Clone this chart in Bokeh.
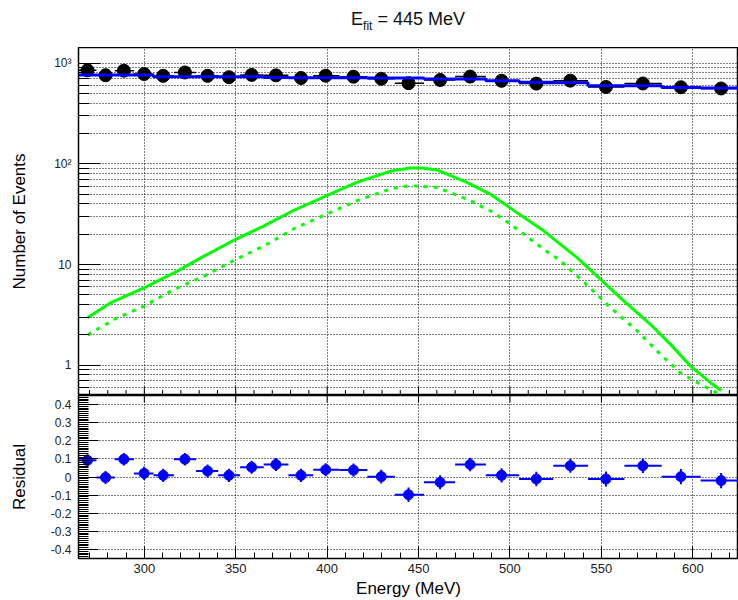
import math
from bokeh.plotting import figure
from bokeh.layouts import column
from bokeh.models import ColumnDataSource, FixedTicker, Range1d, Div
from bokeh.embed import file_html
from bokeh.resources import INLINE

FONT = "Liberation Sans"

# Energy binning (MeV)
bin_lo = [264.0, 273.8, 283.8, 294.3, 305.0, 316.2, 328.3, 340.4, 352.4, 365.3, 378.8, 392.4,
          406.7, 422.0, 437.0, 453.0, 470.0, 486.8, 505.0, 523.7, 542.7, 562.6, 583.0, 604.3]
bin_hi = [273.8, 283.8, 294.3, 305.0, 316.2, 328.3, 340.4, 352.4, 365.3, 378.8, 392.4, 406.7,
          422.0, 437.0, 453.0, 470.0, 486.8, 505.0, 523.7, 542.7, 562.6, 583.0, 604.3, 627.0]
bin_center = [268.9, 278.8, 288.8, 299.9, 310.3, 322.2, 334.6, 346.3, 358.7, 372.0, 385.7, 399.2,
              414.4, 429.6, 444.5, 461.8, 478.2, 495.4, 514.4, 533.0, 552.5, 572.7, 593.5, 615.5]

# Observed counts per bin
counts = [850, 758, 842, 780, 748, 808, 748, 725, 764, 756, 712, 750,
          733, 700, 632, 680, 735, 668, 626, 670, 580, 628, 576, 560]

# Fitted background per bin
fit = [762, 762, 762, 762, 733, 733, 733, 733, 733, 720, 718, 716,
       714, 712, 710, 696, 696, 668, 646, 638, 596, 596, 574, 566]

# Relative residuals and their uncertainties
resid = [0.092, -0.003, 0.098, 0.020, 0.009, 0.098, 0.033, 0.009, 0.054, 0.069, 0.009, 0.040,
         0.038, 0.002, -0.098, -0.029, 0.069, 0.009, -0.011, 0.062, -0.011, 0.062, 0.002, -0.020]
resid_err = [0.034, 0.036, 0.034, 0.036, 0.036, 0.035, 0.036, 0.037, 0.036, 0.036, 0.037, 0.036,
             0.037, 0.038, 0.040, 0.038, 0.037, 0.039, 0.040, 0.039, 0.042, 0.040, 0.042, 0.042]

# Signal shape (solid) and its scaled component (dashed)
sig_e = [269.1, 281.8, 300.1, 318.3, 331.1, 350.3, 365.8, 381.0, 399.8, 416.2, 434.4, 445.4,
         452.0, 460.0, 476.4, 489.2, 500.2, 518.4, 536.7, 549.4, 562.2, 576.8, 587.8, 598.7,
         609.7, 615.5]
sig_total = [2.97, 4.19, 5.90, 8.65, 11.7, 17.9, 24.3, 34.0, 48.3, 65.5, 84.2, 91.0,
             91.0, 87.0, 65.5, 50.1, 36.3, 21.6, 11.7, 7.16, 4.36, 2.55, 1.61, 0.98,
             0.67, 0.56]
sig2_e = [269.1, 283.7, 300.1, 316.5, 333.0, 350.3, 365.8, 382.0, 399.8, 416.2, 434.4, 445.4,
          460.0, 476.4, 489.2, 500.2, 518.4, 527.6, 541.2, 555.0, 569.6, 582.3, 593.2, 604.2,
          613.4]
sig_part = [2.00, 2.86, 3.88, 5.69, 7.72, 11.3, 15.4, 22.8, 31.7, 43.0, 56.2, 60.7,
            58.4, 44.7, 34.2, 25.2, 14.2, 10.9, 6.5, 3.73, 2.19, 1.28, 0.84, 0.645,
            0.53]

# Axis ticks
e_major = [300, 350, 400, 450, 500, 550, 600]
e_minor = [270, 280, 290, 310, 320, 330, 340, 360, 370, 380, 390, 410, 420, 430, 440,
           460, 470, 480, 490, 510, 520, 530, 540, 560, 570, 580, 590, 610, 620]
log_major = [1, 10, 100, 1000]
log_labels = ["1", "10", "10\u00b2", "10\u00b3"]
log_minor = [0.5, 0.6, 0.7, 0.8, 0.9, 2, 3, 4, 5, 6, 7, 8, 9,
             20, 30, 40, 50, 60, 70, 80, 90, 200, 300, 400, 500, 600, 700, 800, 900]
res_major = [-0.4, -0.3, -0.2, -0.1, 0.0, 0.1, 0.2, 0.3, 0.4]
res_labels = ["-0.4", "-0.3", "-0.2", "-0.1", "0", "0.1", "0.2", "0.3", "0.4"]
res_minor = [round(-0.45 + 0.01 * i, 2) for i in range(91)]
res_minor = [t for t in res_minor if t not in res_major]

BLUE = "#0000ff"
GREEN = "#00ff00"

E_LO, E_HI = 264, 625
N_LO, N_HI = 0.5, 1430
R_LO, R_HI = -0.45, 0.45

src = ColumnDataSource(dict(lo=bin_lo, hi=bin_hi, x=bin_center, n=counts,
                            r=resid, r_lo=[r - e for r, e in zip(resid, resid_err)],
                            r_hi=[r + e for r, e in zip(resid, resid_err)]))

x_range = Range1d(E_LO, E_HI)


def dotted_grid(grid, minor=False):
    grid.grid_line_color = "black"
    grid.grid_line_dash = "1 2"
    grid.grid_line_alpha = 1.0
    if minor:
        grid.minor_grid_line_color = "black"
        grid.minor_grid_line_dash = "1 2"
        grid.minor_grid_line_alpha = 1.0


def style_axis(ax, tick_in, minor_in, label_size="12px"):
    ax.axis_line_color = "black"
    ax.major_tick_line_color = "black"
    ax.minor_tick_line_color = "black"
    ax.major_tick_in = tick_in
    ax.major_tick_out = 0
    ax.minor_tick_in = minor_in
    ax.minor_tick_out = 0
    ax.major_label_text_font = FONT
    ax.major_label_text_font_size = label_size
    ax.major_label_text_color = "#222222"
    ax.axis_label_text_font = FONT
    ax.axis_label_text_font_style = "normal"
    ax.axis_label_text_color = "black"
    ax.axis_label_text_font_size = "17px"


# ---------------- title ----------------
title = Div(text='<div style="margin-left:78px;width:660px;text-align:center;'
                 'font-family:\'Liberation Sans\';font-size:18px;color:#111;'
                 'padding-top:9px;line-height:20px;">'
                 'E<span style="font-size:12px;vertical-align:-5px;">fit</span> = 445 MeV</div>',
            width=738, height=47, margin=(0, 0, 0, 0))

# ---------------- upper panel: spectrum ----------------
p1 = figure(width=738, height=348, x_range=x_range, y_range=Range1d(N_LO, N_HI),
            y_axis_type="log", output_backend="svg", toolbar_location=None,
            min_border_left=78, min_border_right=0, min_border_top=0, min_border_bottom=0)
p1.outline_line_color = "black"
p1.outline_line_width = 1.5
p1.xaxis.visible = False
p1.xgrid.ticker = FixedTicker(ticks=e_major)

p1.yaxis.ticker = FixedTicker(ticks=log_major, minor_ticks=log_minor)
p1.yaxis.major_label_overrides = dict(zip(log_major, log_labels))
p1.yaxis.axis_label = "Number of Events"
p1.yaxis.axis_label_standoff = 22
p1.yaxis.major_label_standoff = 7
style_axis(p1.yaxis[0], 22, 11)
dotted_grid(p1.ygrid[0], minor=True)
dotted_grid(p1.xgrid[0])

p1.line(sig_e, sig_total, line_color=GREEN, line_width=3)
p1.line(sig2_e, sig_part, line_color=GREEN, line_width=3, line_dash="4 6")
p1.segment(x0="lo", x1="hi", y0="n", y1="n", source=src, line_color="black", line_width=1.5)
p1.scatter(x="x", y="n", source=src, size=13, marker="circle",
           fill_color="black", line_color="black")
p1.step(bin_lo + [bin_hi[-1]], fit + [fit[-1]], mode="after", line_color=BLUE, line_width=3)

# energy ticks along the lower edge of the spectrum frame (half of each dash is clipped)
p1.scatter(x=e_major, y=[N_LO] * len(e_major), marker="dash", angle=math.pi / 2,
           size=18, line_color="black", line_width=1)
p1.scatter(x=e_minor, y=[N_LO] * len(e_minor), marker="dash", angle=math.pi / 2,
           size=11, line_color="black", line_width=1)

# ---------------- lower panel: residuals ----------------
p2 = figure(width=738, height=205, x_range=x_range, y_range=Range1d(R_LO, R_HI),
            output_backend="svg", toolbar_location=None,
            min_border_left=78, min_border_right=0, min_border_top=0, min_border_bottom=40)
p2.outline_line_color = "black"
p2.outline_line_width = 1.5

p2.yaxis.ticker = FixedTicker(ticks=res_major, minor_ticks=res_minor)
p2.yaxis.major_label_overrides = dict(zip(res_major, res_labels))
p2.yaxis.axis_label = "Residual"
p2.yaxis.axis_label_standoff = 19
p2.yaxis.major_label_standoff = 7
style_axis(p2.yaxis[0], 20, 10)
p2.xaxis.ticker = FixedTicker(ticks=e_major, minor_ticks=e_minor)
p2.xaxis.axis_label = "Energy (MeV)"
style_axis(p2.xaxis[0], 12, 6, label_size="13px")
p2.xaxis.major_label_standoff = 5
p2.xaxis.axis_label_standoff = 3
dotted_grid(p2.ygrid[0])
dotted_grid(p2.xgrid[0])

# major energy ticks hanging from the top edge of the residual frame
p2.scatter(x=e_major, y=[R_HI] * len(e_major), marker="dash", angle=math.pi / 2,
           size=14, line_color="black", line_width=1)

p2.segment(x0="lo", x1="hi", y0="r", y1="r", source=src, line_color=BLUE, line_width=2)
p2.segment(x0="x", x1="x", y0="r_lo", y1="r_hi", source=src, line_color=BLUE, line_width=2)
p2.scatter(x="x", y="r", source=src, size=10, marker="circle", fill_color=BLUE, line_color=BLUE)

layout = column(title, p1, p2, spacing=0)
open("out.html", "w").write(file_html(layout, INLINE))
